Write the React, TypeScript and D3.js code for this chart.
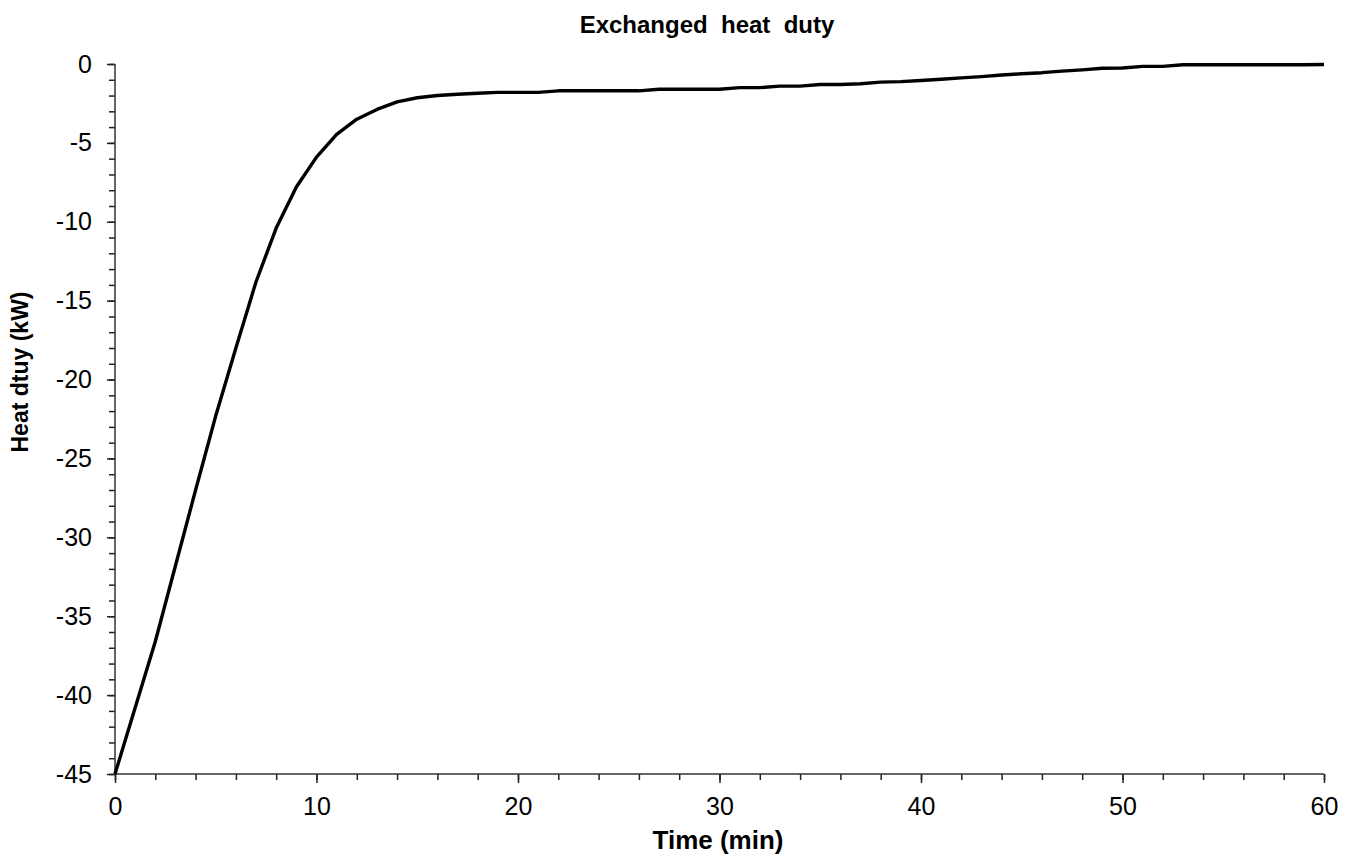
import * as d3 from "d3";
import { useEffect, useRef } from "react";

// time in minutes and exchanged heat duty (kW)
const minutes = [
  0, 1, 2, 3, 4, 5, 6, 7, 8, 9, 10, 11, 12, 13, 14, 15, 16, 17, 18, 19, 20,
  21, 22, 23, 24, 25, 26, 27, 28, 29, 30, 31, 32, 33, 34, 35, 36, 37, 38, 39, 40,
  41, 42, 43, 44, 45, 46, 47, 48, 49, 50, 51, 52, 53, 54, 55, 56, 57, 58, 59, 60,
];
const heatDuty = [
  -45, -40.8, -36.6, -31.8, -27.0, -22.3, -18.0, -13.8, -10.4, -7.8, -5.9,
  -4.46, -3.5, -2.88, -2.4, -2.14, -2.0, -1.92, -1.85, -1.8, -1.8,
  -1.8, -1.7, -1.7, -1.7, -1.7, -1.7, -1.6, -1.6, -1.6, -1.6,
  -1.5, -1.5, -1.4, -1.4, -1.3, -1.3, -1.25, -1.15, -1.12, -1.05,
  -0.97, -0.88, -0.8, -0.7, -0.62, -0.55, -0.45, -0.37, -0.27, -0.25,
  -0.15, -0.15, -0.05, -0.05, -0.05, -0.05, -0.05, -0.05, -0.05, -0.03,
];
const xTicks = [0, 10, 20, 30, 40, 50, 60];
const yTicks = [0, -5, -10, -15, -20, -25, -30, -35, -40, -45];

const W = 1355;
const H = 861;

export default function App() {
  const ref = useRef<SVGSVGElement>(null);

  useEffect(() => {
    const svg = d3.select(ref.current);
    svg.selectAll("*").remove();

    const left = 115;
    const right = 1324;
    const top = 64;
    const bottom = 774;

    const x = d3.scaleLinear().domain([0, 60]).range([left, right]);
    const y = d3.scaleLinear().domain([-45, 0]).range([bottom, top]);

    const font = "Arial, 'Liberation Sans', sans-serif";
    const fmt = (d: d3.NumberValue) => String(d); // plain hyphen minus, like the reference

    // y axis: minor ticks every 1 kW
    const yAxis = svg.append("g").attr("transform", `translate(${left},0)`);
    yAxis
      .call(
        d3.axisLeft(y).tickValues(d3.range(-45, 1, 1)).tickSize(6).tickFormat(() => "")
      )
      .call(g => g.select(".domain").remove());
    yAxis
      .append("g")
      .call(d3.axisLeft(y).tickValues(yTicks).tickSize(8).tickPadding(15).tickFormat(fmt))
      .call(g => g.select(".domain").remove())
      .selectAll("text")
      .attr("font-family", font)
      .attr("font-size", 25)
      .attr("fill", "#000");
    yAxis.selectAll("line").attr("stroke", "#222").attr("stroke-width", 1.5);

    // x axis: minor ticks every 2 min
    const xAxis = svg.append("g").attr("transform", `translate(0,${bottom})`);
    xAxis
      .call(
        d3.axisBottom(x).tickValues(d3.range(0, 61, 2)).tickSize(6).tickFormat(() => "")
      )
      .call(g => g.select(".domain").remove());
    xAxis
      .append("g")
      .call(d3.axisBottom(x).tickValues(xTicks).tickSize(9).tickPadding(14).tickFormat(fmt))
      .call(g => g.select(".domain").remove())
      .selectAll("text")
      .attr("font-family", font)
      .attr("font-size", 25)
      .attr("fill", "#000");
    xAxis.selectAll("line").attr("stroke", "#222").attr("stroke-width", 1.5);

    // axis lines
    svg.append("line")
      .attr("x1", left).attr("x2", left).attr("y1", top).attr("y2", bottom)
      .attr("stroke", "#333").attr("stroke-width", 1.5);
    svg.append("line")
      .attr("x1", left).attr("x2", right).attr("y1", bottom).attr("y2", bottom)
      .attr("stroke", "#333").attr("stroke-width", 1.5);

    // curve
    const line = d3
      .line<number>()
      .x((_, i) => x(minutes[i]))
      .y(d => y(d));
    svg.append("path")
      .datum(heatDuty)
      .attr("d", line)
      .attr("fill", "none")
      .attr("stroke", "#000")
      .attr("stroke-width", 3.4)
      .attr("stroke-linejoin", "round");

    // labels
    svg.append("text")
      .attr("x", 707)
      .attr("y", 33)
      .attr("text-anchor", "middle")
      .attr("font-family", font)
      .attr("font-size", 24)
      .attr("font-weight", "bold")
      .style("white-space", "pre")
      .text("Exchanged  heat  duty");

    svg.append("text")
      .attr("x", 718)
      .attr("y", 849)
      .attr("text-anchor", "middle")
      .attr("font-family", font)
      .attr("font-size", 26)
      .attr("font-weight", "bold")
      .style("white-space", "pre")
      .text("Time (min)");

    svg.append("text")
      .attr("transform", "rotate(-90)")
      .attr("x", -372)
      .attr("y", 28)
      .attr("text-anchor", "middle")
      .attr("font-family", font)
      .attr("font-size", 23)
      .attr("font-weight", "bold")
      .text("Heat dtuy (kW)");
  }, []);

  return (
    <svg
      ref={ref}
      width={W}
      height={H}
      style={{ position: "absolute", left: 0, top: 0, background: "#fff" }}
    />
  );
}
